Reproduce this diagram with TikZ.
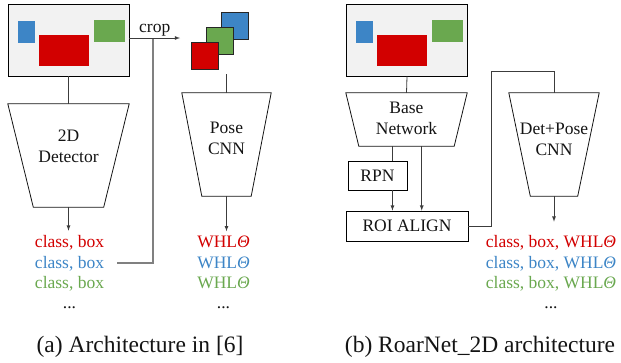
\documentclass[tikz,border=0pt]{standalone}
\usepackage{fontspec}
\setmainfont{Liberation Serif}
\usetikzlibrary{positioning,arrows,calc}
\definecolor{colorred}   {RGB}{210,  0,  0}
\definecolor{colorblue}  {RGB}{ 61,133,198}
\definecolor{colorgreen} {RGB}{106,168, 79}
\definecolor{colorimage} {RGB}{242,242,242}
\definecolor{colorline}  {RGB}{ 60, 60, 60}
\definecolor{colorfeed}  {RGB}{128,128,128}
\definecolor{colortext}  {RGB}{ 20, 20, 20}

\begin{document}
\begin{tikzpicture}[
    x=1pt, y=-1pt, >=latex,
    font={\fontsize{17.5}{21}\selectfont},
    base/.style={text=colortext,inner sep=0pt,align=center},
    image/.style={draw,fill=colorimage,line width=0.9pt,minimum width=121pt,minimum height=72pt,inner sep=0pt},
    frame/.style={inner sep=0pt,minimum width=#1},
    trap/.style={draw=colortext,line width=0.8pt},
    box/.style={base,draw,line width=0.8pt},
    crop/.style={draw=black!85,line width=0.9pt,minimum size=27pt,inner sep=0pt},
    conn/.style={draw=colorline,line width=0.8pt},
    feed/.style={draw=colorfeed,line width=1.6pt},
    lbl/.style={base,anchor=base,inner sep=1pt},
    caption/.style={base,anchor=base,font={\fontsize{23.5}{28}\selectfont}},
]
    \useasboundingbox (0,0) rectangle (621,362);

    % (a) two-stage
    \node[image] (imga) at (68.5,40) {};
    \node[frame=121pt,minimum height=103pt] (det) at (68.5,155.5) {};
    \node[base] (dettext) at ($(det.center)+(0,-9)$) {2D\\Detector};
    \draw[trap] (det.north west) -- (det.north east) -- ($(det.south east)+(-25.5,0)$) -- ($(det.south west)+(25.5,0)$) -- cycle;

    \node[crop,fill=colorblue]  (cropb) at (234.5,25.5) {};
    \node[crop,fill=colorgreen] (cropg) at (219.5,41) {};
    \node[crop,fill=colorred]   (cropr) at (204.5,56) {};

    \node[frame=89pt,minimum height=103pt] (pose) at (226.5,144.5) {};
    \node[base] (posetext) at ($(pose.center)+(0,-6)$) {Pose\\CNN};
    \draw[trap] (pose.north west) -- (pose.north east) -- ($(pose.south east)+(-20,0)$) -- ($(pose.south west)+(20,0)$) -- cycle;

    \node[lbl,text=colorred]   (la1) at (69.5,247) {class, box};
    \node[lbl,text=colorblue]  (la2) at ($(la1.base)+(0,21)$) {class, box};
    \node[lbl,text=colorgreen] (la3) at ($(la2.base)+(0,20)$) {class, box};
    \node[lbl]                 (la4) at ($(la3.base)+(0,20)$) {...};

    \node[lbl,text=colorred]   (lp1) at (223.5,247) {WHL{\itshape Θ}};
    \node[lbl,text=colorblue]  (lp2) at ($(lp1.base)+(0,21)$) {WHL{\itshape Θ}};
    \node[lbl,text=colorgreen] (lp3) at ($(lp2.base)+(0,20)$) {WHL{\itshape Θ}};
    \node[lbl]                 (lp4) at ($(lp3.base)+(0,20)$) {...};

    \coordinate (cropjoin) at (153,38);
    \coordinate (cropin)   at (180,38);
    \draw[feed,shorten <=12pt] (la2.east) -| (cropjoin);
    \draw[conn,->] (imga.east |- cropjoin) -- (cropin) node[midway,above=1pt,base] (croptext) {crop};
    \draw[conn] (imga.south) -- (det.north);
    \draw[conn,->,shorten >=3pt] (det.south) -- (det.south |- la1.north);
    \draw[conn] (pose.north) -- ++(0,-19);
    \draw[conn,->,shorten >=3pt] (pose.south) -- (pose.south |- lp1.north);

    % (b) single-stage
    \node[image] (imgb) at (407,40) {};
    \node[frame=121pt,minimum height=53pt] (basenet) at (406.5,119.5) {};
    \node[base] (basetext) at ($(basenet.center)+(0,-1)$) {Base\\Network};
    \draw[trap] (basenet.north west) -- (basenet.north east) -- ($(basenet.south east)+(-13,0)$) -- ($(basenet.south west)+(13,0)$) -- cycle;

    \node[box,minimum width=59pt,minimum height=29pt] (rpn) at (377.5,175.5) {RPN};
    \node[box,minimum width=122pt,minimum height=30pt] (roi) at (407,226) {ROI ALIGN};

    \node[frame=90pt,minimum height=103pt] (detpose) at (554,144.5) {};
    \node[base] (detposetext) at ($(detpose.center)+(0,-5)$) {Det+Pose\\CNN};
    \draw[trap] (detpose.north west) -- (detpose.north east) -- ($(detpose.south east)+(-21.5,0)$) -- ($(detpose.south west)+(21.5,0)$) -- cycle;

    \node[lbl] (lb1) at (551,247) {\textcolor{colorred}{class, box, WHL{\itshape Θ}}};
    \node[lbl] (lb2) at ($(lb1.base)+(0,21)$) {\textcolor{colorblue}{class, box, WHL{\itshape Θ}}};
    \node[lbl] (lb3) at ($(lb2.base)+(0,20)$) {\textcolor{colorgreen}{class, box, WHL{\itshape Θ}}};
    \node[lbl] (lb4) at ($(lb3.base)+(0,20)$) {...};

    \coordinate (rpnin) at ($(rpn.north east)!0.25!(rpn.north west)$);
    \coordinate (roiin) at ($(roi.north west)!0.62!(roi.north east)$);
    \draw[conn] (imgb.south) -- (basenet.north);
    \draw[conn] (basenet.south -| rpnin) -- (rpnin);
    \draw[conn,->] (rpn.south -| rpnin) -- (roi.north -| rpnin);
    \draw[conn,->] (basenet.south -| roiin) -- (roiin);
    \draw[conn] (roi.east) -- ++(23,0) |- ($(detpose.north)+(0,-21)$) -- (detpose.north);
    \draw[conn,->,shorten >=12pt] (detpose.south) -- (detpose.south |- lb1.north);

    % sub-captions
    \node[caption] (capa) at (140,352) {(a) Architecture in [6]};
    \node[caption] (capb) at (480,352) {(b) RoarNet\_2D architecture};

    % objects in the two input images
    \foreach \img in {imga,imgb} {
        \fill[colorblue]  ($(\img.north west)+(10,17)$) rectangle ++(17,22);
        \fill[colorred]   ($(\img.north west)+(31,31)$) rectangle ++(50,31);
        \fill[colorgreen] ($(\img.north west)+(86,16)$) rectangle ++(31,22);
    }
\end{tikzpicture}
\end{document}
